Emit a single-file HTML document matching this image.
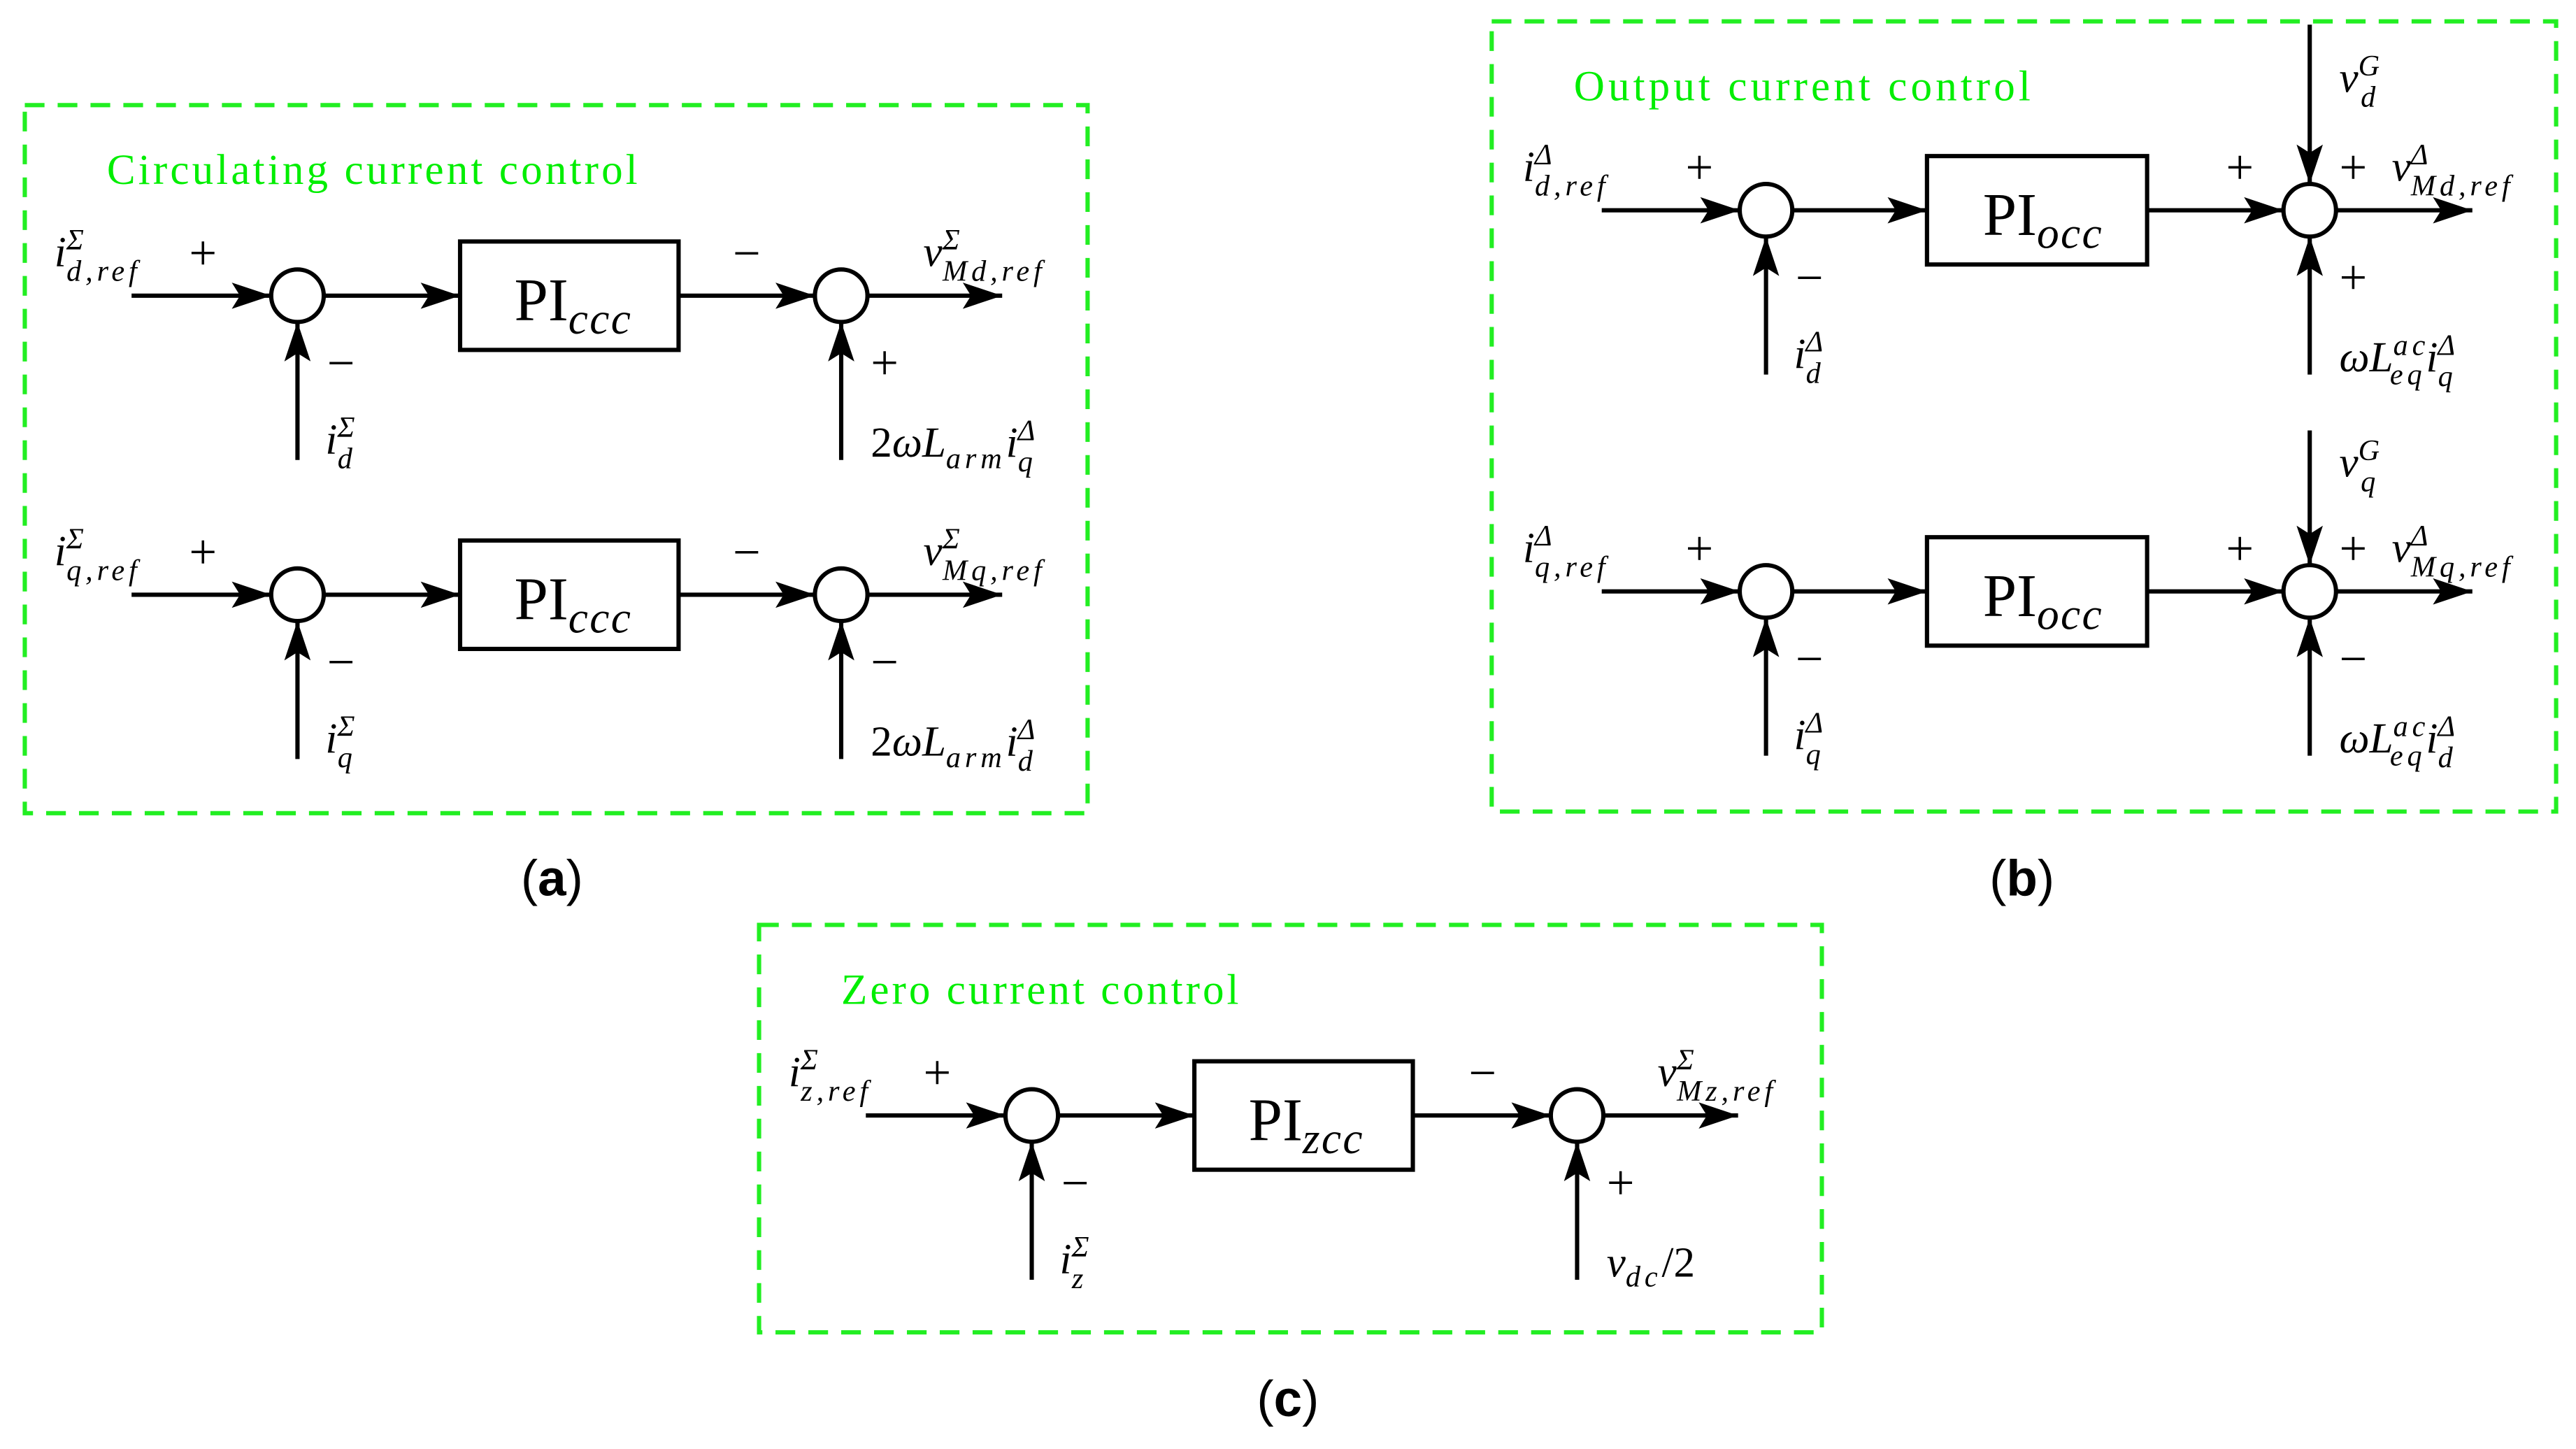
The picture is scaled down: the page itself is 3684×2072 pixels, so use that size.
<!DOCTYPE html>
<html><head><meta charset="utf-8"><style>
html,body{margin:0;padding:0;background:#fff;}
svg{display:block;}
.m{font-family:"Liberation Serif",serif;font-style:italic;font-size:26px;fill:#000;}
.s{font-size:18px;letter-spacing:2.5px;}
.r{font-family:"Liberation Serif",serif;font-style:normal;font-size:30px;fill:#000;}
.pi{font-family:"Liberation Serif",serif;font-size:37px;fill:#000;}
.t{font-family:"Liberation Serif",serif;font-size:26px;fill:#00ee00;}
.lab{font-family:"Liberation Sans",sans-serif;font-size:31px;fill:#000;}
line.w{stroke:#000;stroke-width:2.6;}
circle{fill:#fff;stroke:#000;stroke-width:2.6;}
rect.b{fill:#fff;stroke:#000;stroke-width:2.6;}
rect.g{fill:none;stroke:#22ee22;stroke-width:2.6;stroke-dasharray:12,8;}
</style></head><body>
<svg width="3684" height="2072" viewBox="0 0 1568 882" xmlns="http://www.w3.org/2000/svg">
<defs>
<marker id="a" markerWidth="26" markerHeight="16" refX="24" refY="8" orient="auto" markerUnits="userSpaceOnUse">
<path d="M0,0 L24,8 L0,16 L5,8 Z" fill="#000"/>
</marker>
</defs>

<!-- Panel (a) -->
<rect class="g" x="15" y="64" width="647" height="431"/>
<text class="t" x="65" y="112" textLength="323" lengthAdjust="spacing">Circulating current control</text>
<g>
<line class="w" x1="80" y1="180" x2="165" y2="180" marker-end="url(#a)"/>
<circle cx="181" cy="180" r="16"/>
<line class="w" x1="197" y1="180" x2="280" y2="180" marker-end="url(#a)"/>
<rect class="b" x="280" y="147" width="133" height="66"/>
<text class="pi" x="313" y="195">PI<tspan class="m" style="font-size:27px;letter-spacing:1px" dy="8">ccc</tspan></text>
<line class="w" x1="413" y1="180" x2="496" y2="180" marker-end="url(#a)"/>
<circle cx="512" cy="180" r="16"/>
<line class="w" x1="528" y1="180" x2="610" y2="180" marker-end="url(#a)"/>
<line class="w" x1="181" y1="280" x2="181" y2="196" marker-end="url(#a)"/>
<line class="w" x1="512" y1="280" x2="512" y2="196" marker-end="url(#a)"/>
<text class="r" x="115" y="164">+</text><text class="r" x="199" y="231">−</text>
<text class="r" x="446" y="164">−</text><text class="r" x="530" y="231">+</text>
<text class="m" x="33" y="162">i<tspan class="s" dy="-10">Σ</tspan><tspan class="s" dx="-13" dy="19">d,ref</tspan></text>
<text class="m" x="562" y="162">v<tspan class="s" dy="-10">Σ</tspan><tspan class="s" dx="-13" dy="19">Md,ref</tspan></text>
<text class="m" x="198" y="276">i<tspan class="s" dy="-10">Σ</tspan><tspan class="s" dx="-13" dy="19">d</tspan></text>
<text class="m" x="530" y="278"><tspan style="font-style:normal">2</tspan>ωL<tspan class="s" dy="7">arm</tspan><tspan dy="-7">i</tspan><tspan class="s" dy="-10">Δ</tspan><tspan class="s" dx="-13" dy="19">q</tspan></text>
</g>
<g>
<line class="w" x1="80" y1="362" x2="165" y2="362" marker-end="url(#a)"/>
<circle cx="181" cy="362" r="16"/>
<line class="w" x1="197" y1="362" x2="280" y2="362" marker-end="url(#a)"/>
<rect class="b" x="280" y="329" width="133" height="66"/>
<text class="pi" x="313" y="377">PI<tspan class="m" style="font-size:27px;letter-spacing:1px" dy="8">ccc</tspan></text>
<line class="w" x1="413" y1="362" x2="496" y2="362" marker-end="url(#a)"/>
<circle cx="512" cy="362" r="16"/>
<line class="w" x1="528" y1="362" x2="610" y2="362" marker-end="url(#a)"/>
<line class="w" x1="181" y1="462" x2="181" y2="378" marker-end="url(#a)"/>
<line class="w" x1="512" y1="462" x2="512" y2="378" marker-end="url(#a)"/>
<text class="r" x="115" y="346">+</text><text class="r" x="199" y="413">−</text>
<text class="r" x="446" y="346">−</text><text class="r" x="530" y="413">−</text>
<text class="m" x="33" y="344">i<tspan class="s" dy="-10">Σ</tspan><tspan class="s" dx="-13" dy="19">q,ref</tspan></text>
<text class="m" x="562" y="344">v<tspan class="s" dy="-10">Σ</tspan><tspan class="s" dx="-13" dy="19">Mq,ref</tspan></text>
<text class="m" x="198" y="458">i<tspan class="s" dy="-10">Σ</tspan><tspan class="s" dx="-13" dy="19">q</tspan></text>
<text class="m" x="530" y="460"><tspan style="font-style:normal">2</tspan>ωL<tspan class="s" dy="7">arm</tspan><tspan dy="-7">i</tspan><tspan class="s" dy="-10">Δ</tspan><tspan class="s" dx="-13" dy="19">d</tspan></text>
</g>
<text class="lab" x="317" y="545"><tspan>(</tspan><tspan font-weight="bold">a</tspan><tspan>)</tspan></text>

<!-- Panel (b) -->
<rect class="g" x="908" y="13" width="648" height="481"/>
<text class="t" x="958" y="61" textLength="278" lengthAdjust="spacing">Output current control</text>
<g>
<line class="w" x1="975" y1="128" x2="1059" y2="128" marker-end="url(#a)"/>
<circle cx="1075" cy="128" r="16"/>
<line class="w" x1="1091" y1="128" x2="1173" y2="128" marker-end="url(#a)"/>
<rect class="b" x="1173" y="95" width="134" height="66"/>
<text class="pi" x="1207" y="143">PI<tspan class="m" style="font-size:27px;letter-spacing:1px" dy="8">occ</tspan></text>
<line class="w" x1="1307" y1="128" x2="1390" y2="128" marker-end="url(#a)"/>
<circle cx="1406" cy="128" r="16"/>
<line class="w" x1="1422" y1="128" x2="1505" y2="128" marker-end="url(#a)"/>
<line class="w" x1="1075" y1="228" x2="1075" y2="144" marker-end="url(#a)"/>
<line class="w" x1="1406" y1="15" x2="1406" y2="112" marker-end="url(#a)"/>
<line class="w" x1="1406" y1="228" x2="1406" y2="144" marker-end="url(#a)"/>
<text class="r" x="1026" y="112">+</text><text class="r" x="1093" y="179">−</text>
<text class="r" x="1355" y="112">+</text><text class="r" x="1424" y="112">+</text><text class="r" x="1424" y="179">+</text>
<text class="m" x="927" y="110">i<tspan class="s" dy="-10">Δ</tspan><tspan class="s" dx="-13" dy="19">d,ref</tspan></text>
<text class="m" x="1456" y="110">v<tspan class="s" dy="-10">Δ</tspan><tspan class="s" dx="-13" dy="19">Md,ref</tspan></text>
<text class="m" x="1424" y="56">v<tspan class="s" dy="-10">G</tspan><tspan class="s" dx="-14" dy="19">d</tspan></text>
<text class="m" x="1092" y="224">i<tspan class="s" dy="-10">Δ</tspan><tspan class="s" dx="-13" dy="19">d</tspan></text>
<text class="m" x="1424" y="226">ωL<tspan class="s" dy="-10">ac</tspan><tspan class="s" dx="-24" dy="18">eq</tspan><tspan dy="-8">i</tspan><tspan class="s" dy="-10">Δ</tspan><tspan class="s" dx="-13" dy="19">q</tspan></text>
</g>
<g>
<line class="w" x1="975" y1="360" x2="1059" y2="360" marker-end="url(#a)"/>
<circle cx="1075" cy="360" r="16"/>
<line class="w" x1="1091" y1="360" x2="1173" y2="360" marker-end="url(#a)"/>
<rect class="b" x="1173" y="327" width="134" height="66"/>
<text class="pi" x="1207" y="375">PI<tspan class="m" style="font-size:27px;letter-spacing:1px" dy="8">occ</tspan></text>
<line class="w" x1="1307" y1="360" x2="1390" y2="360" marker-end="url(#a)"/>
<circle cx="1406" cy="360" r="16"/>
<line class="w" x1="1422" y1="360" x2="1505" y2="360" marker-end="url(#a)"/>
<line class="w" x1="1075" y1="460" x2="1075" y2="376" marker-end="url(#a)"/>
<line class="w" x1="1406" y1="262" x2="1406" y2="344" marker-end="url(#a)"/>
<line class="w" x1="1406" y1="460" x2="1406" y2="376" marker-end="url(#a)"/>
<text class="r" x="1026" y="344">+</text><text class="r" x="1093" y="411">−</text>
<text class="r" x="1355" y="344">+</text><text class="r" x="1424" y="344">+</text><text class="r" x="1424" y="411">−</text>
<text class="m" x="927" y="342">i<tspan class="s" dy="-10">Δ</tspan><tspan class="s" dx="-13" dy="19">q,ref</tspan></text>
<text class="m" x="1456" y="342">v<tspan class="s" dy="-10">Δ</tspan><tspan class="s" dx="-13" dy="19">Mq,ref</tspan></text>
<text class="m" x="1424" y="290">v<tspan class="s" dy="-10">G</tspan><tspan class="s" dx="-14" dy="19">q</tspan></text>
<text class="m" x="1092" y="456">i<tspan class="s" dy="-10">Δ</tspan><tspan class="s" dx="-13" dy="19">q</tspan></text>
<text class="m" x="1424" y="458">ωL<tspan class="s" dy="-10">ac</tspan><tspan class="s" dx="-24" dy="18">eq</tspan><tspan dy="-8">i</tspan><tspan class="s" dy="-10">Δ</tspan><tspan class="s" dx="-13" dy="19">d</tspan></text>
</g>
<text class="lab" x="1211" y="545"><tspan>(</tspan><tspan font-weight="bold">b</tspan><tspan>)</tspan></text>

<!-- Panel (c) -->
<rect class="g" x="462" y="563" width="647" height="248"/>
<text class="t" x="512" y="611" textLength="242" lengthAdjust="spacing">Zero current control</text>
<line class="w" x1="527" y1="679" x2="612" y2="679" marker-end="url(#a)"/>
<circle cx="628" cy="679" r="16"/>
<line class="w" x1="644" y1="679" x2="727" y2="679" marker-end="url(#a)"/>
<rect class="b" x="727" y="646" width="133" height="66"/>
<text class="pi" x="760" y="694">PI<tspan class="m" style="font-size:27px;letter-spacing:1px" dy="8">zcc</tspan></text>
<line class="w" x1="860" y1="679" x2="944" y2="679" marker-end="url(#a)"/>
<circle cx="960" cy="679" r="16"/>
<line class="w" x1="976" y1="679" x2="1058" y2="679" marker-end="url(#a)"/>
<line class="w" x1="628" y1="779" x2="628" y2="695" marker-end="url(#a)"/>
<line class="w" x1="960" y1="779" x2="960" y2="695" marker-end="url(#a)"/>
<text class="r" x="562" y="663">+</text><text class="r" x="646" y="730">−</text>
<text class="r" x="894" y="663">−</text><text class="r" x="978" y="730">+</text>
<text class="m" x="480" y="661">i<tspan class="s" dy="-10">Σ</tspan><tspan class="s" dx="-13" dy="19">z,ref</tspan></text>
<text class="m" x="1009" y="661">v<tspan class="s" dy="-10">Σ</tspan><tspan class="s" dx="-13" dy="19">Mz,ref</tspan></text>
<text class="m" x="645" y="775">i<tspan class="s" dy="-10">Σ</tspan><tspan class="s" dx="-13" dy="19">z</tspan></text>
<text class="m" x="978" y="777">v<tspan class="s" dy="6">dc</tspan><tspan dy="-6" style="font-style:normal">/2</tspan></text>
<text class="lab" x="765" y="862"><tspan>(</tspan><tspan font-weight="bold">c</tspan><tspan>)</tspan></text>
</svg>
</body></html>
